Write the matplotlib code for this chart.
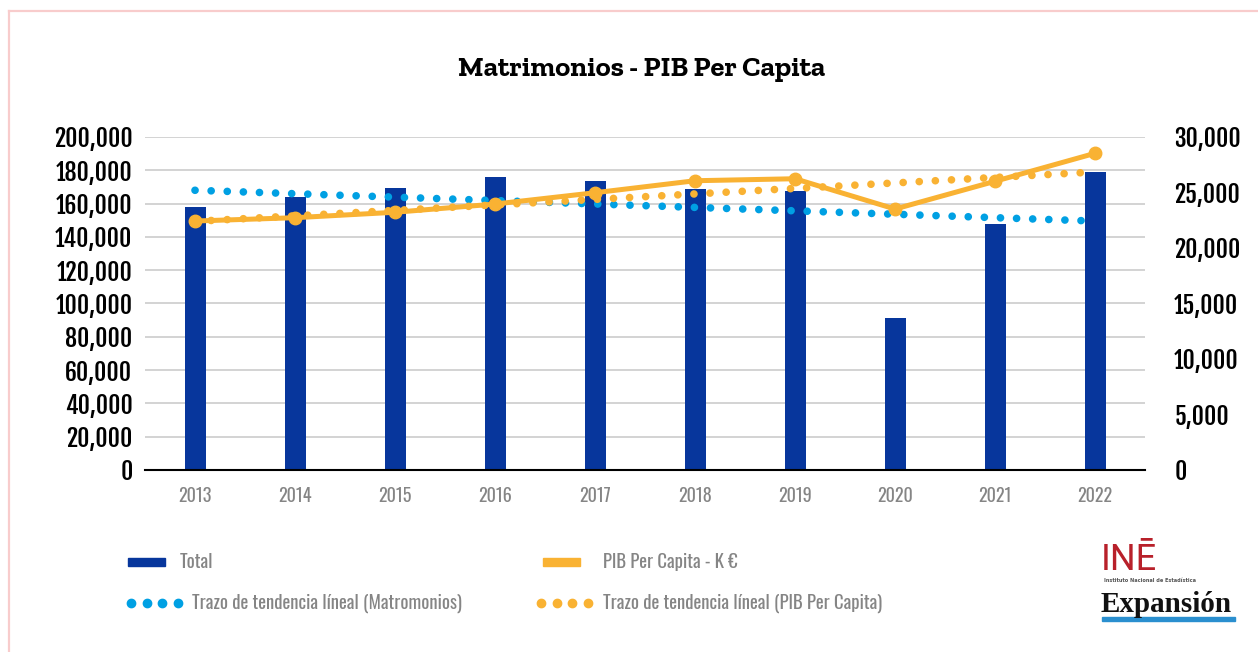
import numpy as np
import matplotlib
matplotlib.use("Agg")
import matplotlib.pyplot as plt
from matplotlib.lines import Line2D
from matplotlib.patches import Rectangle

# values
years = ["2013", "2014", "2015", "2016", "2017", "2018", "2019", "2020", "2021", "2022"]
matrimonios = [158000, 164000, 169400, 176000, 173600, 168800, 167600, 91300, 147700, 179000]
pib_per_capita = [22430, 22730, 23220, 23960, 24980, 26060, 26240, 23510, 26010, 28530]
# linear trend lines: value at first and last year
trend_matrimonios = [168000, 149500]
trend_pib = [22400, 26850]

left_ticks = list(range(0, 200001, 20000))
right_ticks = list(range(0, 30001, 5000))

BLUE = "#07369c"
LIGHT_BLUE = "#00a0e3"
ORANGE = "#f9b233"
GREY_TXT = "#858585"
COND = ["Oswald", "Roboto Condensed", "DejaVu Sans"]
COND_BOLD = ["Fjalla One", "Barlow Condensed", "DejaVu Sans"]
SLAB = ["Zilla Slab", "DejaVu Serif"]

W, H = 1258, 652
fig = plt.figure(figsize=(W / 100, H / 100), dpi=100)

ax = fig.add_axes([145 / W, 1 - 470 / H, 1000 / W, 333 / H])
ax2 = ax.twinx()

x = np.arange(len(years))
ax.bar(x, matrimonios, width=0.21, color=BLUE, zorder=2)
ax.plot([x[0], x[-1]], trend_matrimonios, color=LIGHT_BLUE, lw=5.5,
        linestyle=(0, (0.01, 2.1)), dash_capstyle="round", zorder=3)

ax2.plot([x[0], x[-1]], trend_pib, color=ORANGE, lw=5.5,
         linestyle=(0, (0.01, 2.1)), dash_capstyle="round", zorder=3)
ax2.plot(x, pib_per_capita, color=ORANGE, lw=3.6, marker="o", ms=9,
         solid_capstyle="round", zorder=4)

ax.set_xlim(-0.5, len(years) - 0.5)
ax.set_ylim(0, 200000)
ax2.set_ylim(0, 30000)
ax.set_yticks(left_ticks)
ax2.set_yticks(right_ticks)
ax.set_yticklabels([f"{v:,}" for v in left_ticks], family=COND_BOLD,
                   fontweight="bold", fontsize=17)
ax2.set_yticklabels([f"{v:,}" for v in right_ticks], family=COND_BOLD,
                    fontweight="bold", fontsize=17)
ax.set_xticks(x)
ax.set_xticklabels(years, family=COND, fontweight="light", fontsize=13, color=GREY_TXT)
ax.tick_params(axis="x", length=0, pad=12)
ax.tick_params(axis="y", length=0, pad=9)
ax2.tick_params(axis="y", length=0, pad=21)

ax.yaxis.grid(True, color="#d0d0d0", lw=1.3)
ax.set_axisbelow(True)
for a in (ax, ax2):
    for side in ("top", "left", "right"):
        a.spines[side].set_visible(False)
ax.spines["bottom"].set_color("black")
ax.spines["bottom"].set_linewidth(1.5)
ax.spines["bottom"].set_zorder(5)
ax2.spines["bottom"].set_visible(False)

fig.text(642 / W, 1 - 70 / H, "Matrimonios - PIB Per Capita", ha="center", va="center",
         family=SLAB, fontweight="bold", fontsize=20.5)


def px(xp, yp):
    return xp / W, 1 - yp / H


# legend
fig.add_artist(Rectangle(px(128, 566), 37 / W, 8 / H, color=BLUE, transform=fig.transFigure))
fig.text(*px(180, 562), "Total", va="center", family=COND, fontweight="light",
         fontsize=13.5, color=GREY_TXT)
fig.add_artist(Rectangle(px(543, 566), 37 / W, 8 / H, color=ORANGE, transform=fig.transFigure))
fig.text(*px(603, 562), "PIB Per Capita - K €", va="center", family=COND,
         fontweight="light", fontsize=13.5, color=GREY_TXT)
for x0, col in ((131, LIGHT_BLUE), (541, ORANGE)):
    fig.add_artist(Line2D([x0 / W + i * 15.5 / W for i in range(4)], [1 - 603 / H] * 4,
                          transform=fig.transFigure, ls="none", marker="o", ms=6,
                          color=col))
fig.text(*px(192, 603), "Trazo de tendencia líneal (Matromonios)", va="center",
         family=COND, fontweight="light", fontsize=13.5, color=GREY_TXT)
fig.text(*px(603, 603), "Trazo de tendencia líneal (PIB Per Capita)", va="center",
         family=COND, fontweight="light", fontsize=13.5, color=GREY_TXT)

# sources
fig.text(*px(1101, 560), "INĒ", va="center", ha="left", family=["Roboto", "DejaVu Sans"],
         fontsize=26, color="#b8202a")
fig.text(*px(1104, 580), "Instituto Nacional de Estadística", va="center", ha="left",
         fontsize=3.6, fontweight="bold", color="#555555")
fig.text(*px(1101, 604), "Expansión", va="center", ha="left", family="Liberation Serif",
         fontweight="bold", fontsize=21, color="#111111")
fig.add_artist(Rectangle(px(1102, 621), 133 / W, 4 / H, color="#2a8fcf",
                         transform=fig.transFigure))

# pink frame
fig.add_artist(Line2D([8.5 / W, 1], [1 - 10.5 / H] * 2, transform=fig.transFigure,
                      color="#f8cccc", lw=1.6))
fig.add_artist(Line2D([8.5 / W] * 2, [0, 1 - 10.5 / H], transform=fig.transFigure,
                      color="#f8cccc", lw=1.6))

fig.savefig("out.png", dpi=100)
